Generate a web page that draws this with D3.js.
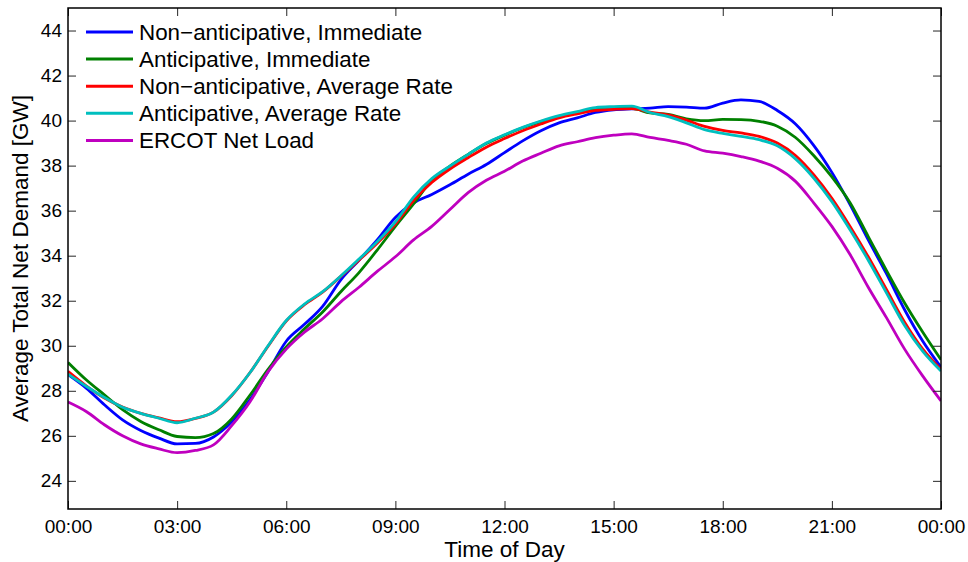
<!DOCTYPE html>
<html lang="en">
<head>
<meta charset="UTF-8">
<title>Average Total Net Demand</title>
<style>
  body { margin: 0; background: #fff; }
  svg text { font-family: "Liberation Sans", Arial, Helvetica, sans-serif; fill: #000; }
</style>
</head>
<body>
<script src="https://d3js.org/d3.v7.min.js"></script>
<script>
var width = 968, height = 562;
var margin = { left: 68, right: 27, top: 8, bottom: 53 };

// time of day in hours, half-hour steps
var hours = d3.range(0, 24.01, 0.5);

var nonAntImmediate = [28.72, 28.12, 27.38, 26.71, 26.24, 25.9, 25.64, 25.66, 25.95, 26.62,
  27.6, 28.85, 30.2, 30.95, 31.75, 32.93, 33.8, 34.7, 35.7, 36.34,
  36.72, 37.15, 37.62, 38.05, 38.58, 39.1, 39.55, 39.9, 40.12, 40.36,
  40.48, 40.52, 40.55, 40.62, 40.6, 40.55, 40.78, 40.92, 40.85, 40.45,
  39.85, 38.9, 37.7, 36.27, 34.7, 33.2, 31.6, 30.2, 29.05];

var antImmediate = [29.26, 28.49, 27.82, 27.16, 26.64, 26.27, 25.97, 25.92, 26.1, 26.75,
  27.8, 28.95, 29.95, 30.75, 31.5, 32.4, 33.25, 34.25, 35.3, 36.3,
  37.35, 37.98, 38.5, 38.98, 39.35, 39.68, 39.95, 40.18, 40.36, 40.52,
  40.56, 40.54, 40.34, 40.27, 40.08, 40.0, 40.05, 40.04, 39.97, 39.75,
  39.25, 38.45, 37.5, 36.35, 34.85, 33.35, 31.9, 30.6, 29.38];

var nonAntAvgRate = [28.86, 28.22, 27.68, 27.28, 27.0, 26.8, 26.63, 26.77, 27.05, 27.78,
  28.8, 29.98, 31.1, 31.82, 32.38, 33.08, 33.8, 34.55, 35.4, 36.45,
  37.25, 37.85, 38.35, 38.82, 39.2, 39.55, 39.85, 40.12, 40.3, 40.45,
  40.5, 40.53, 40.38, 40.25, 40.02, 39.74, 39.56, 39.45, 39.3, 39.0,
  38.45, 37.6, 36.55, 35.3, 33.95, 32.5, 31.05, 29.85, 28.95];

var antAvgRate = [28.74, 28.2, 27.7, 27.27, 27.0, 26.78, 26.58, 26.78, 27.05, 27.8,
  28.8, 30.0, 31.12, 31.85, 32.4, 33.1, 33.85, 34.62, 35.5, 36.6,
  37.42, 37.98, 38.5, 39.0, 39.37, 39.7, 39.98, 40.22, 40.4, 40.58,
  40.62, 40.64, 40.36, 40.18, 39.9, 39.6, 39.43, 39.3, 39.15, 38.88,
  38.3, 37.45, 36.4, 35.15, 33.8, 32.35, 30.9, 29.75, 28.88];

var ercotNetLoad = [27.5, 27.08, 26.49, 26.0, 25.64, 25.42, 25.25, 25.35, 25.6, 26.45,
  27.5, 28.85, 29.85, 30.6, 31.2, 31.95, 32.6, 33.3, 33.95, 34.7,
  35.3, 36.05, 36.8, 37.35, 37.75, 38.2, 38.55, 38.88, 39.06, 39.24,
  39.35, 39.41, 39.25, 39.12, 38.95, 38.65, 38.55, 38.4, 38.2, 37.88,
  37.3, 36.35, 35.3, 34.05, 32.6, 31.25, 29.85, 28.65, 27.55];

var seriesNames = ['Non\u2212anticipative, Immediate', 'Anticipative, Immediate',
  'Non\u2212anticipative, Average Rate', 'Anticipative, Average Rate', 'ERCOT Net Load'];
var seriesColors = ['#0000ff', '#008000', '#ff0000', '#00bfbf', '#bf00bf'];
var seriesValues = [nonAntImmediate, antImmediate, nonAntAvgRate, antAvgRate, ercotNetLoad];

var xTicks = [0, 3, 6, 9, 12, 15, 18, 21, 24];
var xTickLabels = ['00:00', '03:00', '06:00', '09:00', '12:00', '15:00', '18:00', '21:00', '00:00'];
var yTicks = [24, 26, 28, 30, 32, 34, 36, 38, 40, 42, 44];

var svg = d3.select('body').append('svg')
    .attr('width', width)
    .attr('height', height);

var x = d3.scaleLinear().domain([0, 24]).range([margin.left, width - margin.right]);
var y = d3.scaleLinear().domain([22.75, 45]).range([height - margin.bottom, margin.top]);

svg.append('clipPath').attr('id', 'plotclip')
  .append('rect')
    .attr('x', x(0)).attr('y', y(45))
    .attr('width', x(24) - x(0)).attr('height', y(22.75) - y(45));

// lines
var line = d3.line()
    .x(function(d) { return x(d[0]); })
    .y(function(d) { return y(d[1]); })
    .curve(d3.curveMonotoneX);

var lines = svg.append('g').attr('clip-path', 'url(#plotclip)');
seriesValues.forEach(function(vals, i) {
  lines.append('path')
    .datum(hours.map(function(h, j) { return [h, vals[j]]; }))
    .attr('d', line)
    .attr('fill', 'none')
    .attr('stroke', seriesColors[i])
    .attr('stroke-width', 2.8)
    .attr('stroke-linejoin', 'round');
});

// axes, ticks pointing inward on all four sides
var tickLen = 8;
var xAxis = d3.axisBottom(x).tickValues(xTicks)
    .tickFormat(function(d, i) { return xTickLabels[i]; })
    .tickSizeInner(-tickLen).tickSizeOuter(0).tickPadding(11);
var yAxis = d3.axisLeft(y).tickValues(yTicks)
    .tickSizeInner(-tickLen).tickSizeOuter(0).tickPadding(6);

svg.append('g').attr('class', 'axis')
    .attr('transform', 'translate(0,' + y(22.75) + ')')
    .call(xAxis);
svg.append('g').attr('class', 'axis')
    .attr('transform', 'translate(' + x(0) + ',0)')
    .call(yAxis);
svg.append('g').attr('class', 'axis')
    .attr('transform', 'translate(0,' + y(45) + ')')
    .call(d3.axisTop(x).tickValues(xTicks).tickSizeInner(-tickLen).tickSizeOuter(0).tickFormat(''));
svg.append('g').attr('class', 'axis')
    .attr('transform', 'translate(' + x(24) + ',0)')
    .call(d3.axisRight(y).tickValues(yTicks).tickSizeInner(-tickLen).tickSizeOuter(0).tickFormat(''));

svg.selectAll('.axis .domain').remove();
svg.selectAll('.axis .tick line').attr('stroke', '#262626').attr('stroke-width', 1);
svg.selectAll('.axis text').style('font-size', '19px');

// box
svg.append('rect')
    .attr('x', x(0)).attr('y', y(45))
    .attr('width', x(24) - x(0)).attr('height', y(22.75) - y(45))
    .attr('fill', 'none').attr('stroke', '#000').attr('stroke-width', 1.5);

// axis titles
svg.append('text')
    .attr('x', (x(0) + x(24)) / 2).attr('y', 557)
    .attr('text-anchor', 'middle')
    .style('font-size', '22.5px')
    .text('Time of Day');
svg.append('text')
    .attr('transform', 'translate(28,' + ((y(22.75) + y(45)) / 2) + ') rotate(-90)')
    .attr('text-anchor', 'middle')
    .style('font-size', '22.5px')
    .text('Average Total Net Demand [GW]');

// legend
var legend = svg.append('g');
seriesNames.forEach(function(name, i) {
  var ly = 32 + i * 27.1;
  legend.append('line')
    .attr('x1', 86).attr('x2', 133).attr('y1', ly).attr('y2', ly)
    .attr('stroke', seriesColors[i]).attr('stroke-width', 3);
  legend.append('text')
    .attr('x', 139).attr('y', ly).attr('dy', '0.35em')
    .style('font-size', '22.4px')
    .text(name);
});
</script>
</body>
</html>
